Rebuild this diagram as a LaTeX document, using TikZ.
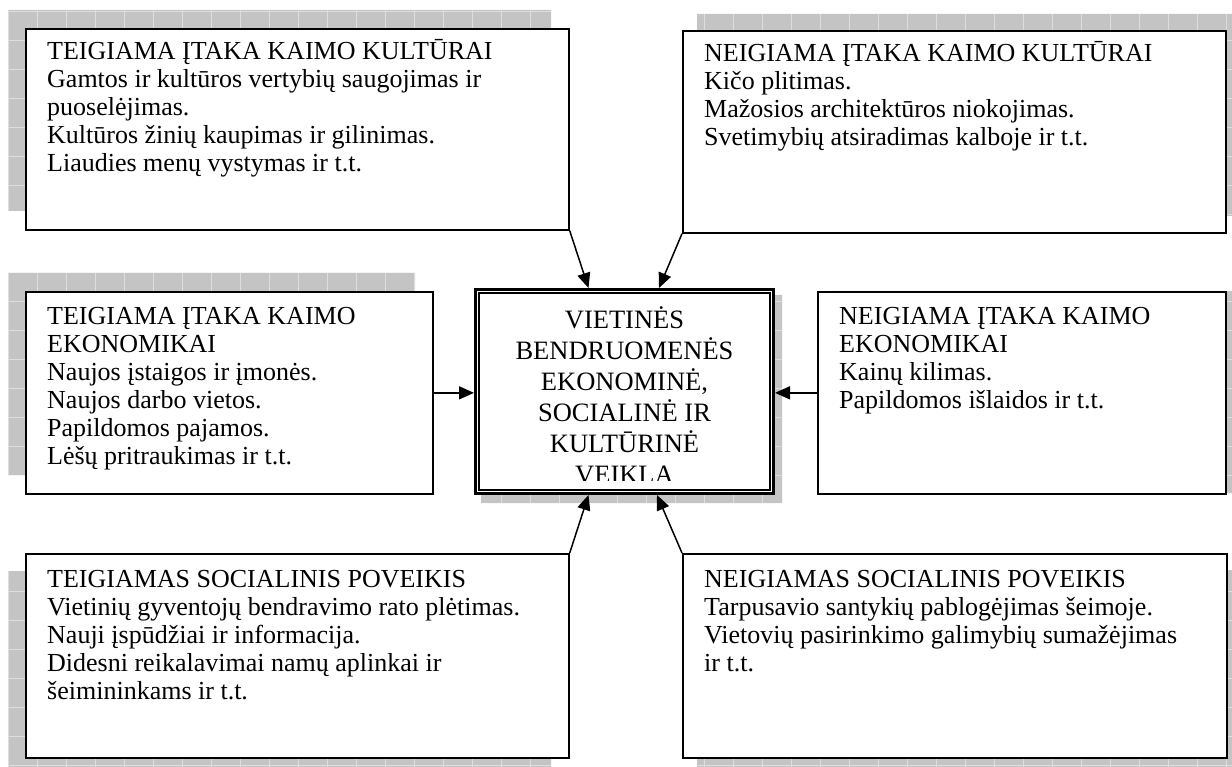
\documentclass[tikz,border=0pt]{standalone}
\usepackage{fontspec}
\setmainfont{Liberation Serif}
\usetikzlibrary{arrows.meta}
\definecolor{shadowgray}{RGB}{196,196,196}
\definecolor{gridgray}{RGB}{222,222,222}
% shadow areas behind the boxes
\def\shadowrects{(8,10) rectangle (551,211) (697,14) rectangle (1232,216)
  (8,273) rectangle (415,475) (832,291) rectangle (1232,493)
  (8,571) rectangle (551,767) (697,570) rectangle (1232,767)
  (481,295) rectangle (782,503)}
\newcommand{\firstline}{\rule{0pt}{22pt}}
\begin{document}
\begin{tikzpicture}[x=1pt, y=-1pt,
    infobox/.style={draw, line width=1.7pt, fill=white, anchor=north west, inner sep=0pt},
    infotext/.style={anchor=north west, align=left, inner sep=0pt, font=\fontsize{26}{28}\selectfont},
    hubtext/.style={anchor=north, align=center, inner sep=0pt, font=\fontsize{26.5}{31}\selectfont},
    arrow/.style={-{Triangle[length=15pt, width=13pt]}, line width=1.5pt}
]
    \useasboundingbox (0,0) rectangle (1232,767);

    % Shadows
    \fill[shadowgray] \shadowrects;
    \begin{scope}
        \clip \shadowrects;
        \foreach \gx in {8,37,...,1232} \draw[gridgray, line width=0.7pt] (\gx,0) -- (\gx,767);
        \foreach \gy in {11,40,...,767} \draw[gridgray, line width=0.7pt] (0,\gy) -- (1232,\gy);
    \end{scope}

    % Boxes
    \node[infobox, minimum width=543pt, minimum height=201pt] (tlbox) at (25,28) {};
    \node[infobox, minimum width=543pt, minimum height=202pt] (trbox) at (682,30) {};
    \node[infobox, minimum width=407pt, minimum height=202pt] (mlbox) at (25,291) {};
    \node[infobox, minimum width=408pt, minimum height=202pt] (mrbox) at (817,291) {};
    \node[infobox, minimum width=543pt, minimum height=204pt] (blbox) at (25,553) {};
    \node[infobox, minimum width=544pt, minimum height=204pt] (brbox) at (682,553) {};

    % Texts
    \node[infotext] (tltext) at ([xshift=22pt, yshift=-9pt]tlbox.north west) {\firstline TEIGIAMA ĮTAKA KAIMO KULTŪRAI\\Gamtos ir kultūros vertybių saugojimas ir\\puoselėjimas.\\Kultūros žinių kaupimas ir gilinimas.\\Liaudies menų vystymas ir t.t.};
    \node[infotext] (trtext) at ([xshift=22pt, yshift=-9pt]trbox.north west) {\firstline NEIGIAMA ĮTAKA KAIMO KULTŪRAI\\Kičo plitimas.\\Mažosios architektūros niokojimas.\\Svetimybių atsiradimas kalboje ir t.t.};
    \node[infotext] (mltext) at ([xshift=22pt, yshift=-11pt]mlbox.north west) {\firstline TEIGIAMA ĮTAKA KAIMO\\EKONOMIKAI\\Naujos įstaigos ir įmonės.\\Naujos darbo vietos.\\Papildomos pajamos.\\Lėšų pritraukimas ir t.t.};
    \node[infotext] (mrtext) at ([xshift=22pt, yshift=-11pt]mrbox.north west) {\firstline NEIGIAMA ĮTAKA KAIMO\\EKONOMIKAI\\Kainų kilimas.\\Papildomos išlaidos ir t.t.};
    \node[infotext] (bltext) at ([xshift=22pt, yshift=-12pt]blbox.north west) {\firstline TEIGIAMAS SOCIALINIS POVEIKIS\\Vietinių gyventojų bendravimo rato plėtimas.\\Nauji įspūdžiai ir informacija.\\Didesni reikalavimai namų aplinkai ir\\šeimininkams ir t.t.};
    \node[infotext] (brtext) at ([xshift=22pt, yshift=-12pt]brbox.north west) {\firstline NEIGIAMAS SOCIALINIS POVEIKIS\\Tarpusavio santykių pablogėjimas šeimoje.\\Vietovių pasirinkimo galimybių sumažėjimas\\ir t.t.};

    % Central box
    \node[draw, line width=3pt, fill=white, minimum width=298pt, minimum height=204pt, inner sep=0pt] (hub) at (624.5,391.5) {};
    \draw[line width=1.5pt] ([shift={(5pt,-5pt)}]hub.north west) rectangle ([shift={(-5pt,5pt)}]hub.south east);
    \begin{scope}
        \clip (482,296) rectangle (768,480);
        \node[hubtext] (hubtitle) at (624.5,304) {\rule{0pt}{24pt}VIETINĖS\\BENDRUOMENĖS\\EKONOMINĖ,\\SOCIALINĖ IR\\KULTŪRINĖ\\VEIKLA};
    \end{scope}

    % Arrows
    \draw[arrow] (tlbox.south east) -- ([xshift=114.5pt]hub.north west);
    \draw[arrow] (trbox.south west) -- ([xshift=185pt]hub.north west);
    \draw[arrow] (mlbox.east) -- (mlbox.east -| hub.west);
    \draw[arrow] (mrbox.west) -- (mrbox.west -| hub.east);
    \draw[arrow] (blbox.north east) -- ([xshift=114.5pt]hub.south west);
    \draw[arrow] (brbox.north west) -- ([xshift=183pt]hub.south west);
\end{tikzpicture}
\end{document}
